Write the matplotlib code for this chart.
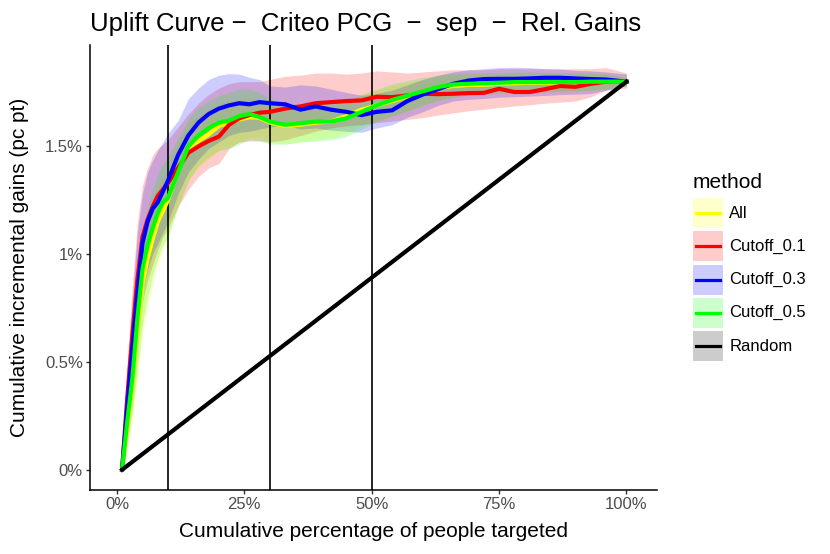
import numpy as np
import matplotlib
matplotlib.use("Agg")
import matplotlib.pyplot as plt
from matplotlib.lines import Line2D
from matplotlib.patches import Rectangle
from matplotlib.ticker import FuncFormatter

plt.rcParams["font.family"] = ["Liberation Sans", "DejaVu Sans"]

# percentage of people targeted (x) and gains in percentage points (y)
pct_targeted = [1, 2, 3, 4, 5, 6, 7, 8, 9, 10, 12, 14, 16, 18, 20, 22, 24, 26, 28, 30,
                33, 36, 39, 42, 45, 48, 51, 54, 57, 60, 63, 66, 69, 72, 75, 78, 81, 84,
                87, 90, 93, 96, 100]

gain_all = [0.0, 0.19, 0.38, 0.63, 0.86, 0.98, 1.07, 1.15, 1.20, 1.25, 1.39, 1.49, 1.525,
            1.555, 1.595, 1.61, 1.625, 1.635, 1.632, 1.61, 1.595, 1.60, 1.61, 1.615, 1.64,
            1.67, 1.69, 1.71, 1.73, 1.75, 1.77, 1.78, 1.785, 1.785, 1.79, 1.793, 1.795,
            1.795, 1.795, 1.797, 1.80, 1.80, 1.80]
gain_c01 = [0.0, 0.33, 0.62, 0.88, 1.08, 1.16, 1.22, 1.27, 1.30, 1.33, 1.40, 1.47, 1.50,
            1.525, 1.545, 1.60, 1.63, 1.645, 1.656, 1.66, 1.675, 1.685, 1.70, 1.705, 1.71,
            1.713, 1.73, 1.728, 1.736, 1.744, 1.742, 1.744, 1.747, 1.748, 1.767, 1.752,
            1.752, 1.765, 1.78, 1.776, 1.79, 1.80, 1.80]
gain_c03 = [0.0, 0.29, 0.56, 0.82, 1.05, 1.15, 1.21, 1.24, 1.29, 1.34, 1.46, 1.55, 1.61,
            1.65, 1.675, 1.69, 1.70, 1.695, 1.705, 1.70, 1.695, 1.67, 1.685, 1.67, 1.66,
            1.645, 1.66, 1.667, 1.71, 1.74, 1.765, 1.79, 1.805, 1.812, 1.813, 1.813, 1.815,
            1.818, 1.818, 1.815, 1.812, 1.81, 1.80]
gain_c05 = [0.0, 0.22, 0.42, 0.70, 0.93, 1.04, 1.12, 1.19, 1.24, 1.26, 1.38, 1.50, 1.55,
            1.585, 1.61, 1.62, 1.64, 1.65, 1.636, 1.615, 1.60, 1.607, 1.615, 1.615, 1.63,
            1.66, 1.69, 1.715, 1.735, 1.755, 1.775, 1.787, 1.79, 1.793, 1.795, 1.798, 1.798,
            1.798, 1.798, 1.798, 1.80, 1.80, 1.80]

# ribbon bounds
all_lo = [0.0, 0.10, 0.22, 0.40, 0.62, 0.75, 0.86, 0.95, 1.02, 1.07, 1.22, 1.34, 1.40,
          1.44, 1.48, 1.50, 1.52, 1.54, 1.545, 1.52, 1.51, 1.52, 1.53, 1.54, 1.56, 1.595,
          1.62, 1.64, 1.66, 1.69, 1.71, 1.725, 1.735, 1.738, 1.743, 1.746, 1.75, 1.75,
          1.752, 1.754, 1.76, 1.765, 1.78]
all_hi = [0.0, 0.30, 0.55, 0.82, 1.05, 1.17, 1.25, 1.32, 1.36, 1.40, 1.52, 1.61, 1.64,
          1.67, 1.70, 1.71, 1.72, 1.725, 1.72, 1.70, 1.68, 1.68, 1.69, 1.69, 1.71, 1.74,
          1.76, 1.78, 1.795, 1.81, 1.825, 1.832, 1.835, 1.835, 1.837, 1.84, 1.84, 1.84,
          1.84, 1.84, 1.838, 1.835, 1.82]
c01_lo = [0.0, 0.15, 0.35, 0.58, 0.78, 0.88, 0.95, 1.02, 1.08, 1.12, 1.22, 1.30, 1.36,
          1.40, 1.42, 1.49, 1.52, 1.525, 1.525, 1.52, 1.53, 1.55, 1.57, 1.585, 1.595, 1.60,
          1.61, 1.617, 1.625, 1.633, 1.645, 1.655, 1.665, 1.672, 1.68, 1.687, 1.693, 1.70,
          1.705, 1.71, 1.73, 1.76, 1.77]
c01_hi = [0.0, 0.50, 0.85, 1.15, 1.32, 1.40, 1.46, 1.49, 1.51, 1.53, 1.59, 1.65, 1.70,
          1.74, 1.77, 1.79, 1.80, 1.80, 1.80, 1.81, 1.825, 1.83, 1.84, 1.84, 1.835, 1.84,
          1.85, 1.845, 1.84, 1.845, 1.85, 1.855, 1.855, 1.855, 1.86, 1.86, 1.86, 1.86,
          1.86, 1.86, 1.86, 1.865, 1.84]
c03_lo = [0.0, 0.15, 0.35, 0.58, 0.82, 0.93, 1.00, 1.05, 1.10, 1.15, 1.28, 1.38, 1.44,
          1.49, 1.52, 1.55, 1.565, 1.57, 1.58, 1.59, 1.60, 1.58, 1.585, 1.575, 1.57, 1.565,
          1.585, 1.60, 1.635, 1.66, 1.69, 1.71, 1.718, 1.722, 1.728, 1.73, 1.733, 1.736,
          1.74, 1.742, 1.745, 1.76, 1.78]
c03_hi = [0.0, 0.45, 0.80, 1.10, 1.28, 1.38, 1.435, 1.48, 1.52, 1.56, 1.62, 1.72, 1.77,
          1.81, 1.83, 1.837, 1.835, 1.82, 1.81, 1.78, 1.775, 1.785, 1.78, 1.765, 1.75,
          1.737, 1.745, 1.76, 1.785, 1.81, 1.83, 1.845, 1.855, 1.86, 1.865, 1.867, 1.865,
          1.86, 1.858, 1.852, 1.85, 1.845, 1.835]
c05_lo = [0.0, 0.12, 0.27, 0.45, 0.67, 0.80, 0.90, 0.98, 1.04, 1.08, 1.22, 1.34, 1.41,
          1.45, 1.48, 1.49, 1.51, 1.53, 1.525, 1.51, 1.51, 1.52, 1.525, 1.53, 1.545, 1.58,
          1.615, 1.64, 1.665, 1.69, 1.715, 1.73, 1.74, 1.745, 1.75, 1.752, 1.752, 1.753,
          1.755, 1.757, 1.76, 1.765, 1.78]
c05_hi = [0.0, 0.32, 0.58, 0.88, 1.10, 1.22, 1.30, 1.37, 1.42, 1.45, 1.54, 1.63, 1.68,
          1.71, 1.735, 1.75, 1.765, 1.765, 1.75, 1.72, 1.70, 1.695, 1.70, 1.70, 1.71, 1.74,
          1.765, 1.79, 1.805, 1.82, 1.83, 1.84, 1.84, 1.84, 1.842, 1.845, 1.845, 1.843,
          1.842, 1.84, 1.84, 1.835, 1.82]

random_x = [1, 100]
random_y = [0.0, 1.80]

cutoff_lines = [10, 30, 50]

methods = ["All", "Cutoff_0.1", "Cutoff_0.3", "Cutoff_0.5", "Random"]
colors = ["#FFFF00", "#FF0000", "#0000FF", "#00FF00", "#000000"]

gains = [gain_all, gain_c01, gain_c03, gain_c05]
lows = [all_lo, c01_lo, c03_lo, c05_lo]
highs = [all_hi, c01_hi, c03_hi, c05_hi]

W, H = 830, 554
fig = plt.figure(figsize=(W / 100, H / 100), dpi=100)
ax = fig.add_axes([90 / W, 1 - 490 / H, 567 / W, 445 / H])

x = np.array(pct_targeted)
for lo, hi, c in zip(lows, highs, colors):
    ax.fill_between(x, lo, hi, color=c, alpha=0.2, linewidth=0, zorder=1)

for xv in cutoff_lines:
    ax.axvline(xv, color="black", lw=1.2, zorder=2)

for g, c in zip(gains, colors):
    ax.plot(x, g, color=c, lw=3.0, solid_joinstyle="round", zorder=3)
ax.plot(random_x, random_y, color="black", lw=3.0, zorder=3)

ax.set_xlim(-5.3, 106)
ax.set_ylim(-0.094, 1.97)
ax.set_xticks([0, 25, 50, 75, 100])
ax.set_yticks([0, 0.5, 1, 1.5])
ax.xaxis.set_major_formatter(FuncFormatter(lambda v, p: f"{v:g}%"))
ax.yaxis.set_major_formatter(FuncFormatter(lambda v, p: f"{v:g}%"))

for s in ["top", "right"]:
    ax.spines[s].set_visible(False)
for s in ["left", "bottom"]:
    ax.spines[s].set_linewidth(1.1)
ax.tick_params(axis="both", colors="#333333", labelcolor="#4D4D4D", labelsize=12,
               length=2.9, width=1.0, pad=2.2)

ax.set_xlabel("Cumulative percentage of people targeted", fontsize=15)
ax.set_ylabel("Cumulative incremental gains (pc pt)", fontsize=15)
ax.xaxis.set_label_coords(0.5, -0.072)
ax.yaxis.set_label_coords(-0.108, 0.5)
ax.set_title("Uplift Curve \u2212  Criteo PCG  \u2212  sep  \u2212  Rel. Gains",
             fontsize=18.5, loc="left", pad=10)

# legend drawn by hand: ggplot style keys (pale fill box + line)
fig.text(692.7 / W, 1 - 182 / H, "method", fontsize=15, va="center", ha="left")
for i, (m, c) in enumerate(zip(methods, colors)):
    top = 198 + i * 33.3
    fig.add_artist(Rectangle((692.7 / W, 1 - (top + 30) / H), 30 / W, 30 / H,
                             transform=fig.transFigure, facecolor=c, alpha=0.2,
                             edgecolor="none"))
    yc = 1 - (top + 15) / H
    fig.add_artist(Line2D([695.5 / W, 720 / W], [yc, yc], transform=fig.transFigure,
                          color=c, lw=2.3))
    fig.text(729.3 / W, yc, m, fontsize=12, va="center", ha="left")

fig.savefig("out.png", dpi=100)
